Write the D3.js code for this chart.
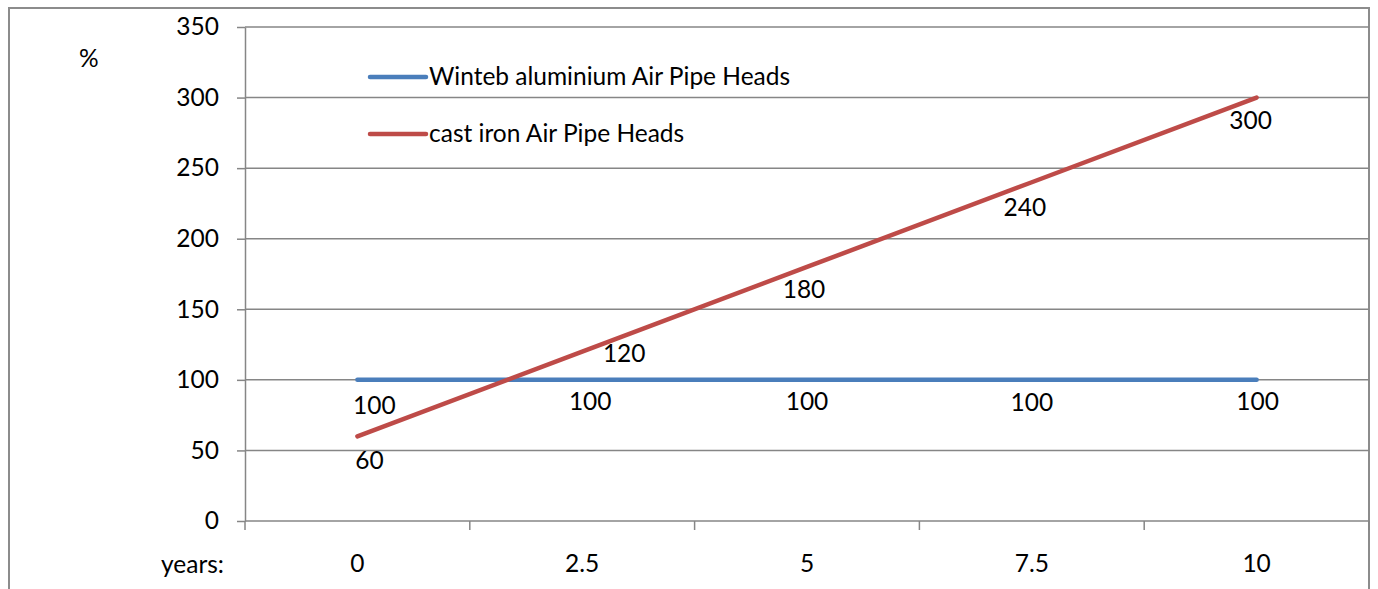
<!DOCTYPE html>
<html>
<head>
<meta charset="utf-8">
<script src="https://cdn.jsdelivr.net/npm/d3@7"></script>
<style>
  body { margin: 0; background: #fff; }
  text { font-family: Lato, "Open Sans", sans-serif; fill: #000; }
</style>
</head>
<body>
<div id="chart"></div>
<script>
// data
var years = ["0", "2.5", "5", "7.5", "10"];
var aluminium = [100, 100, 100, 100, 100];
var castIron = [60, 120, 180, 240, 300];
var seriesNames = ["Winteb aluminium Air Pipe Heads", "cast iron Air Pipe Heads"];
var yTicks = [0, 50, 100, 150, 200, 250, 300, 350];

// label nudges (the labels were dragged around by hand in the original)
var aluNudge = [[17, 4], [8, 0], [0, 0], [0, 1], [1, 0]];
var ironNudge = [[12, 33], [42, 10], [-3, 31], [-7, 34], [-6, 31]];

(function() {
  var width = 1378, height = 589;
  var plot = { left: 245, right: 1369, top: 27, bottom: 521 };
  var grey = "#868686";
  var colors = ["#4a7ebb", "#be4b48"];
  var fs = 24.5;

  var svg = d3.select("#chart")
    .append("svg")
    .attr("width", width)
    .attr("height", height);

  // outer chart border (bottom edge runs off the picture)
  svg.append("rect")
    .attr("x", 9).attr("y", 8)
    .attr("width", 1360).attr("height", 620)
    .attr("fill", "none")
    .attr("stroke", "#8c8c8c")
    .attr("stroke-width", 2);

  var x = d3.scaleBand()
    .domain(years)
    .range([plot.left, plot.right]);

  var y = d3.scaleLinear()
    .domain([0, 350])
    .range([plot.bottom, plot.top]);

  var cx = function(i) { return x(years[i]) + x.bandwidth() / 2; };

  // horizontal gridlines
  svg.append("g").selectAll("line")
    .data(yTicks.filter(function(d) { return d > 0; }))
    .enter().append("line")
    .attr("x1", plot.left).attr("x2", plot.right)
    .attr("y1", function(d) { return y(d); })
    .attr("y2", function(d) { return y(d); })
    .attr("stroke", grey)
    .attr("stroke-width", 1.5);

  // y axis
  var yAxis = svg.append("g")
    .attr("transform", "translate(" + plot.left + ",0)")
    .call(d3.axisLeft(y).tickValues(yTicks).tickSize(8).tickPadding(18).tickSizeOuter(0));
  yAxis.select(".domain").attr("stroke", grey).attr("stroke-width", 1.5);
  yAxis.selectAll(".tick line").attr("stroke", grey).attr("stroke-width", 1.5);
  yAxis.selectAll(".tick text")
    .style("font-family", "Lato, sans-serif")
    .attr("font-size", fs)
    .attr("fill", "#000");

  // x axis: ticks sit on the category boundaries
  var bounds = years.map(function(d) { return x(d); }).concat([plot.right]);
  svg.append("line")
    .attr("x1", plot.left).attr("x2", plot.right)
    .attr("y1", plot.bottom).attr("y2", plot.bottom)
    .attr("stroke", grey).attr("stroke-width", 1.5);
  svg.append("g").selectAll("line")
    .data(bounds)
    .enter().append("line")
    .attr("x1", function(d) { return d; })
    .attr("x2", function(d) { return d; })
    .attr("y1", plot.bottom).attr("y2", plot.bottom + 9)
    .attr("stroke", grey).attr("stroke-width", 1.5);
  svg.append("g").selectAll("text")
    .data(years)
    .enter().append("text")
    .attr("x", function(d, i) { return cx(i); })
    .attr("y", 572)
    .attr("text-anchor", "middle")
    .attr("font-size", fs)
    .text(function(d) { return d; });

  svg.append("text")
    .attr("x", 224).attr("y", 573)
    .attr("text-anchor", "end")
    .attr("font-size", fs)
    .text("years:");

  svg.append("text")
    .attr("x", 79).attr("y", 67)
    .attr("font-size", fs)
    .text("%");

  // lines
  var line = d3.line()
    .x(function(d, i) { return cx(i); })
    .y(function(d) { return y(d); });

  [aluminium, castIron].forEach(function(vals, k) {
    svg.append("path")
      .datum(vals)
      .attr("d", line)
      .attr("fill", "none")
      .attr("stroke", colors[k])
      .attr("stroke-width", 4.5)
      .attr("stroke-linecap", "round")
      .attr("stroke-linejoin", "round");
  });

  // data labels
  var addLabels = function(vals, nudge, base) {
    svg.append("g").selectAll("text")
      .data(vals)
      .enter().append("text")
      .attr("x", function(d, i) { return cx(i) + nudge[i][0]; })
      .attr("y", function(d, i) { return y(d) + (base == null ? nudge[i][1] : base + nudge[i][1]); })
      .attr("text-anchor", "middle")
      .attr("font-size", fs)
      .text(function(d) { return d; });
  };
  addLabels(aluminium, aluNudge, 30);
  addLabels(castIron, ironNudge);

  // legend
  var legend = svg.append("g").selectAll("g")
    .data(seriesNames)
    .enter().append("g")
    .attr("transform", function(d, i) { return "translate(370," + (77 + i * 57) + ")"; });
  legend.append("line")
    .attr("x1", 0).attr("x2", 56)
    .attr("stroke", function(d, i) { return colors[i]; })
    .attr("stroke-width", 4.5)
    .attr("stroke-linecap", "round");
  legend.append("text")
    .attr("x", 59).attr("y", 8)
    .attr("font-size", fs)
    .text(function(d) { return d; });
})();
</script>
</body>
</html>
